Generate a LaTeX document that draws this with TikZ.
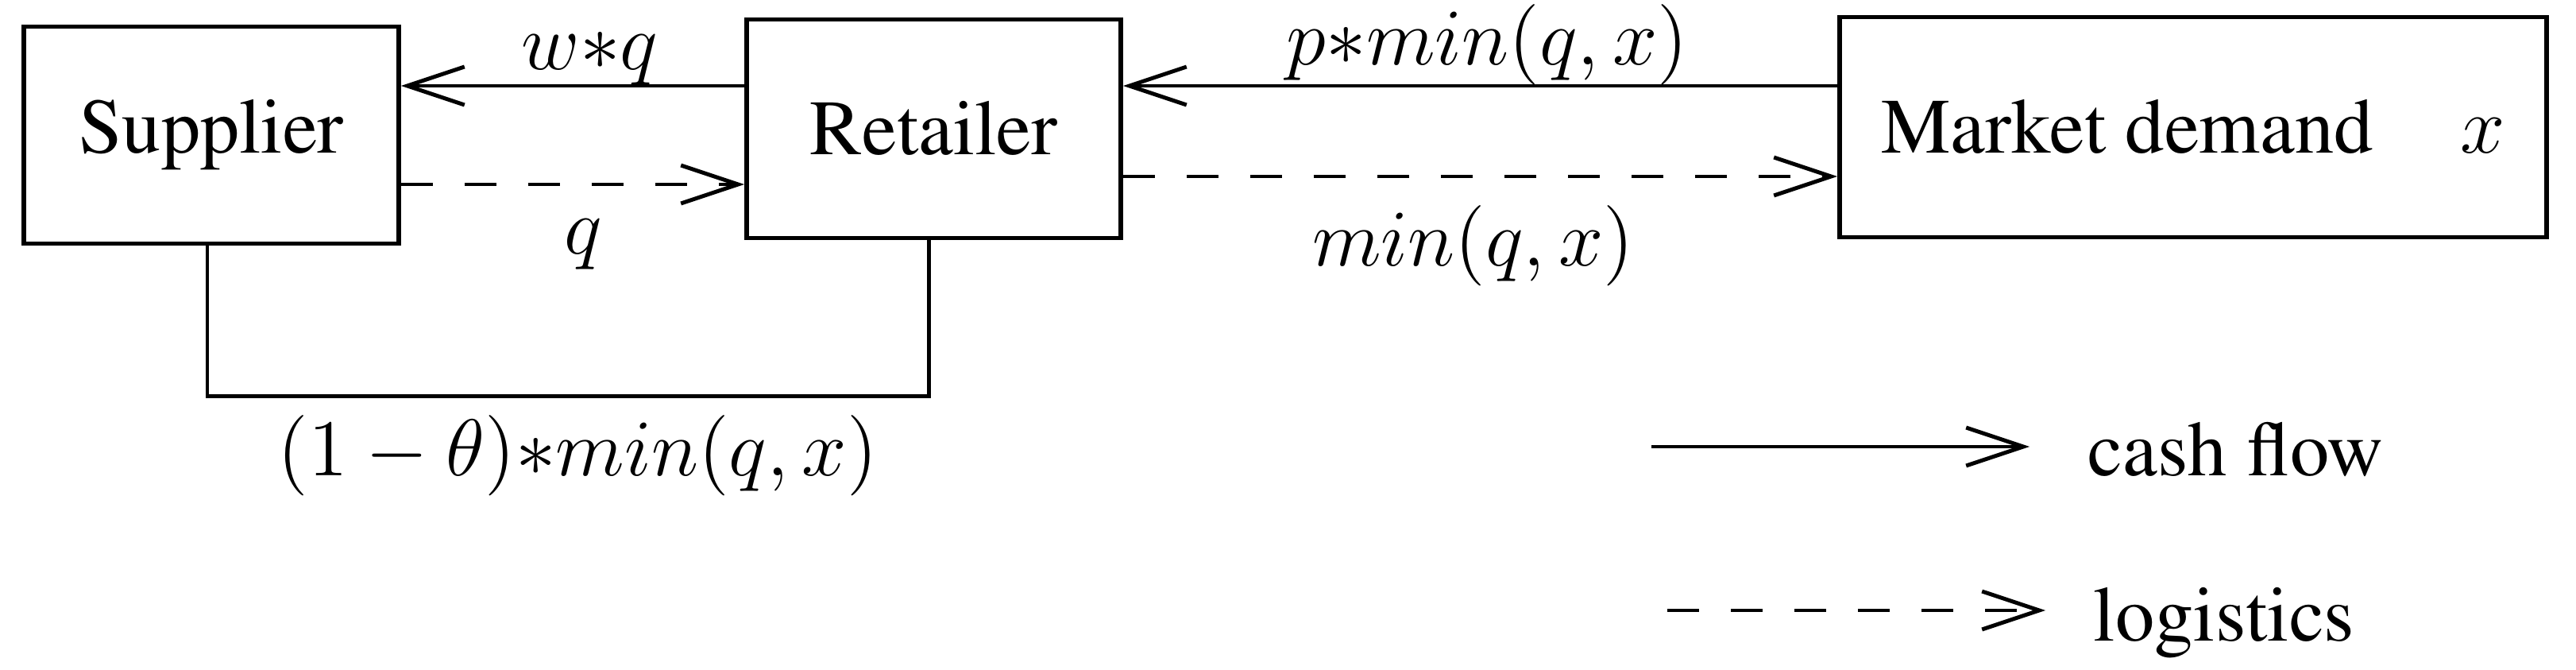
\documentclass[tikz,border=0pt]{standalone}
\usepackage[T1]{fontenc}
\renewcommand{\rmdefault}{ptm}
\usetikzlibrary{arrows.meta}

\begin{document}
\begin{tikzpicture}[
    every node/.style={font=\rmfamily\fontsize{14}{16}\selectfont},
    box/.style={draw, line width=0.85pt, inner sep=0pt},
    cash/.style={line width=0.7pt, -{Straight Barb[length=3.6mm, width=2.4mm]}},
    logi/.style={cash, dash pattern=on 2mm off 2mm},
    flow/.style={line width=0.65pt},
    lab/.style={font=\fontsize{15}{18}\selectfont, inner sep=0pt, anchor=base}
  ]
  \useasboundingbox (0,0) rectangle (16.215,4.21);
  \node[box, minimum width=2.36cm, minimum height=1.365cm] (sup) at (1.33,3.36) {Supplier};
  \node[box, minimum width=2.355cm, minimum height=1.375cm] (ret) at (5.8775,3.40) {\raisebox{-0.08cm}{Retailer}};
  \node[box, minimum width=4.45cm, minimum height=1.385cm] (mkt) at (13.805,3.41) {Market demand\hspace{0.55cm}$x$};
  \draw[cash] ([yshift=0.27cm]ret.west) -- ([yshift=0.27cm]ret.west -| sup.east)
    node[lab, pos=0.45, yshift=0.1cm] {$w{*}q$};
  \draw[logi] ([yshift=-0.35cm]ret.west -| sup.east) -- ([yshift=-0.35cm]ret.west)
    node[lab, pos=0.53, yshift=-0.435cm] {$q$};
  \draw[cash] ([yshift=0.26cm]mkt.west) -- ([yshift=0.26cm]mkt.west -| ret.east)
    node[lab, pos=0.49, yshift=0.135cm] {$p{*}min(q,x)$};
  \draw[logi] ([yshift=-0.31cm]mkt.west -| ret.east) -- ([yshift=-0.31cm]mkt.west)
    node[lab, pos=0.49, yshift=-0.56cm] {$min(q,x)$};
  \draw[flow] ([xshift=-0.025cm]sup.south) -- ++(0,-0.945) -| ([xshift=-0.03cm]ret.south)
    node[lab, pos=0.25, xshift=0.06cm, yshift=-0.5cm] {$(1-\theta){*}min(q,x)$};
  \coordinate (cashA) at (10.395,1.40);
  \coordinate (cashB) at (12.775,1.40);
  \coordinate (logiA) at (10.495,0.37);
  \coordinate (logiB) at (12.875,0.37);
  \draw[cash] (cashA) -- (cashB) node[anchor=base west, xshift=0.24cm, yshift=-0.18cm] {cash flow};
  \draw[logi] (logiA) -- (logiB) node[anchor=base west, xshift=0.175cm, yshift=-0.19cm] {logistics};
\end{tikzpicture}
\end{document}
